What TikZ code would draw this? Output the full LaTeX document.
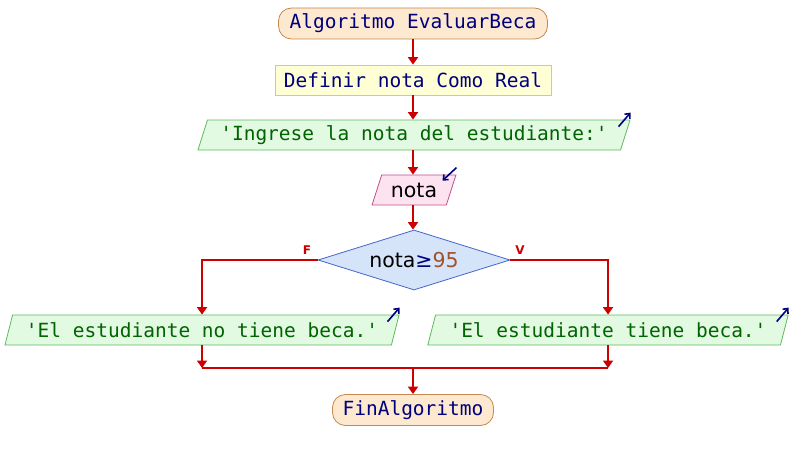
\documentclass[tikz,border=0pt]{standalone}
\usepackage{fontspec}
\setmainfont{DejaVu Sans}
\setmonofont{DejaVu Sans Mono}
\usetikzlibrary{shapes.geometric,arrows.meta}
\definecolor{termfill}{HTML}{FCE9CF}
\definecolor{termdraw}{HTML}{C8874B}
\definecolor{kw}{HTML}{00007F}
\definecolor{deffill}{HTML}{FFFFD6}
\definecolor{defdraw}{HTML}{D6CE6A}
\definecolor{outfill}{HTML}{E2F9E2}
\definecolor{outdraw}{HTML}{5DBB5D}
\definecolor{outtext}{HTML}{006400}
\definecolor{infill}{HTML}{FDE3EF}
\definecolor{indraw}{HTML}{C0508A}
\definecolor{decfill}{HTML}{D6E4FA}
\definecolor{decdraw}{HTML}{4466CC}
\definecolor{numc}{HTML}{A0522D}
\definecolor{flow}{HTML}{CC0000}
\begin{document}
\begin{tikzpicture}[x=1pt,y=-1pt,
  mono/.style={font=\ttfamily\fontsize{19.5}{22}\selectfont},
  term/.style={mono, draw=termdraw, fill=termfill, rounded corners=13pt, minimum height=31pt, inner sep=0pt, text=kw, line width=0.8pt},
  defbox/.style={mono, draw=defdraw, fill=deffill, minimum height=30pt, inner sep=0pt, text=kw, line width=0.8pt},
  para/.style={trapezium, trapezium left angle=65, trapezium right angle=115, trapezium stretches=true, minimum height=30pt, inner sep=0pt, line width=0.8pt},
  outbox/.style={para, mono, draw=outdraw, fill=outfill, text=outtext},
  inbox/.style={para, font=\fontsize{20.5}{22}\selectfont, draw=indraw, fill=infill, text=black},
  decbox/.style={diamond, aspect=3.2, minimum width=192pt, minimum height=60pt, inner sep=0pt, draw=decdraw, fill=decfill, line width=0.8pt, font=\fontsize{20.5}{22}\selectfont},
  flowline/.style={draw=flow, line width=2pt},
  flowarrow/.style={flowline, -{Triangle[width=10pt,length=7.5pt]}},
  ioarrow/.style={draw=kw, line width=1.6pt, -{Straight Barb[width=7pt,length=4pt]}},
  lbl/.style={text=flow, font=\bfseries\fontsize{12}{12}\selectfont}
]
\useasboundingbox (0,0) rectangle (792,460);

\node[term, minimum width=269pt] (start) at (413,23.5) {Algoritmo EvaluarBeca};
\node[defbox, minimum width=276pt] (def) at (413,80) {Definir nota Como Real};
\node[outbox, minimum width=434pt] (out1) at (414,135) {'Ingrese la nota del estudiante:'};
\node[inbox, minimum width=84pt] (in1) at (414,190) {nota};
\node[decbox] (dec) at (414,260) {nota{\color{kw}≥}{\color{numc}95}};
\node[outbox, minimum width=396pt] (outF) at (202,330) {'El estudiante no tiene beca.'};
\node[outbox, minimum width=362pt] (outV) at (608,330) {'El estudiante tiene beca.'};
\coordinate (join) at (413,368);
\node[term, minimum width=161pt] (end) at (413,410) {FinAlgoritmo};

\node[lbl] at (307,250) {F};
\node[lbl] at (520,250) {V};

\draw[flowarrow] (start) -- (def);
\draw[flowarrow] (def) -- (def |- out1.north);
\draw[flowarrow] (out1.south -| def) -- (in1.north -| def);
\draw[flowarrow] (in1.south -| def) -- (dec.north -| def);
\draw[flowarrow] (dec.west) -| (outF.north);
\draw[flowarrow] (dec.east) -| (outV.north);
\draw[flowarrow] (outF.south) -- (outF.south |- join);
\draw[flowarrow] (outV.south) -- (outV.south |- join);
\draw[flowline] (outF.south |- join) -- (outV.south |- join);
\draw[flowarrow] (join) -- (end);

\draw[ioarrow] ([shift={(-12,7)}]out1.top right corner) -- ([shift={(0,-7)}]out1.top right corner);
\draw[ioarrow] ([shift={(0,-7)}]in1.top right corner) -- ([shift={(-14,6)}]in1.top right corner);
\draw[ioarrow] ([shift={(-12,7)}]outF.top right corner) -- ([shift={(0,-7)}]outF.top right corner);
\draw[ioarrow] ([shift={(-12,7)}]outV.top right corner) -- ([shift={(0,-7)}]outV.top right corner);
\end{tikzpicture}
\end{document}
